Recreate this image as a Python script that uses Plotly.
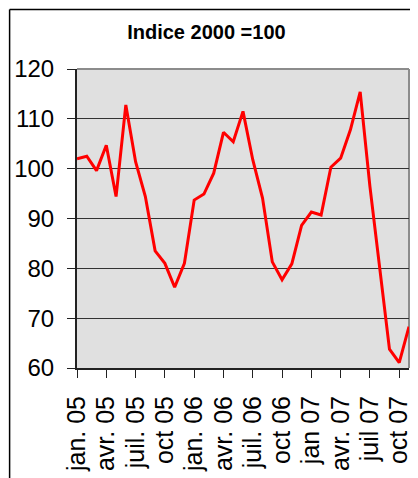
import plotly.graph_objects as go

# monthly index values, jan 2005 .. nov 2007
months = [
    "2005-01", "2005-02", "2005-03", "2005-04", "2005-05", "2005-06",
    "2005-07", "2005-08", "2005-09", "2005-10", "2005-11", "2005-12",
    "2006-01", "2006-02", "2006-03", "2006-04", "2006-05", "2006-06",
    "2006-07", "2006-08", "2006-09", "2006-10", "2006-11", "2006-12",
    "2007-01", "2007-02", "2007-03", "2007-04", "2007-05", "2007-06",
    "2007-07", "2007-08", "2007-09", "2007-10", "2007-11",
]
index_values = [
    102.0, 102.5, 99.6, 104.7, 94.4, 112.8, 101.4, 94.4, 83.5, 81.0, 76.2, 81.0,
    93.7, 94.9, 99.1, 107.3, 105.4, 111.5, 101.8, 94.1, 81.3, 77.7, 80.9, 88.6,
    91.3, 90.7, 100.3, 102.1, 107.8, 115.4, 96.4, 80.3, 63.8, 61.1, 68.3,
]
tick_months = months[::3]
tick_labels = [
    "jan. 05", "avr. 05", "juil. 05", "oct 05",
    "jan. 06", "avr. 06", "juil. 06", "oct 06",
    "jan 07", "avr. 07", "juil 07", "oct 07",
]

FONT = "Arial, Liberation Sans, sans-serif"

fig = go.Figure()
fig.add_trace(go.Scatter(
    x=months, y=index_values,
    mode="lines",
    line=dict(color="#ff0000", width=3),
    showlegend=False,
))

# page body adds an 8px margin, so the figure is 8px smaller than the window
fig.update_layout(
    width=410, height=470,
    margin=dict(l=69, r=9, t=61, b=110, autoexpand=False),
    paper_bgcolor="white",
    plot_bgcolor="#e0e0e0",
    title=dict(
        text="<b>Indice 2000 =100</b>",
        x=0.484, xanchor="center", y=0.949, yanchor="middle",
        font=dict(family=FONT, size=20, color="black"),
    ),
    xaxis=dict(
        type="category",
        range=[0, len(months) - 1],
        tickmode="array", tickvals=tick_months, ticktext=tick_labels,
        tickangle=-90,
        ticks="outside", ticklen=8, tickcolor="#222", tickwidth=1,
        ticklabelstandoff=8,
        showgrid=False, zeroline=False,
        showline=True, linecolor="#222", linewidth=2,
        tickfont=dict(family=FONT, size=25, color="black"),
        automargin=False,
    ),
    yaxis=dict(
        range=[60, 120], dtick=10,
        ticks="outside", ticklen=8, tickcolor="#222", tickwidth=1,
        ticklabelstandoff=8,
        showgrid=True, gridcolor="#333", gridwidth=1,
        zeroline=False,
        showline=True, linecolor="#222", linewidth=2,
        tickfont=dict(family=FONT, size=24, color="black"),
        automargin=False,
    ),
    shapes=[
        # grey border on top and right of the plot area
        dict(type="line", xref="paper", yref="paper", x0=0, x1=1, y0=1, y1=1,
             line=dict(color="#8c8c8c", width=2), layer="between"),
        dict(type="line", xref="paper", yref="paper", x0=1, x1=1, y0=0, y1=1,
             line=dict(color="#8c8c8c", width=2), layer="between"),
        # outer chart frame (cut at right and bottom)
        dict(type="line", xref="paper", yref="paper", x0=-0.203, x1=1.1, y0=1.199, y1=1.199,
             line=dict(color="black", width=1.5)),
        dict(type="line", xref="paper", yref="paper", x0=-0.203, x1=-0.203, y0=-0.5, y1=1.199,
             line=dict(color="black", width=1.5)),
    ],
)

fig.write_html("out.html")
